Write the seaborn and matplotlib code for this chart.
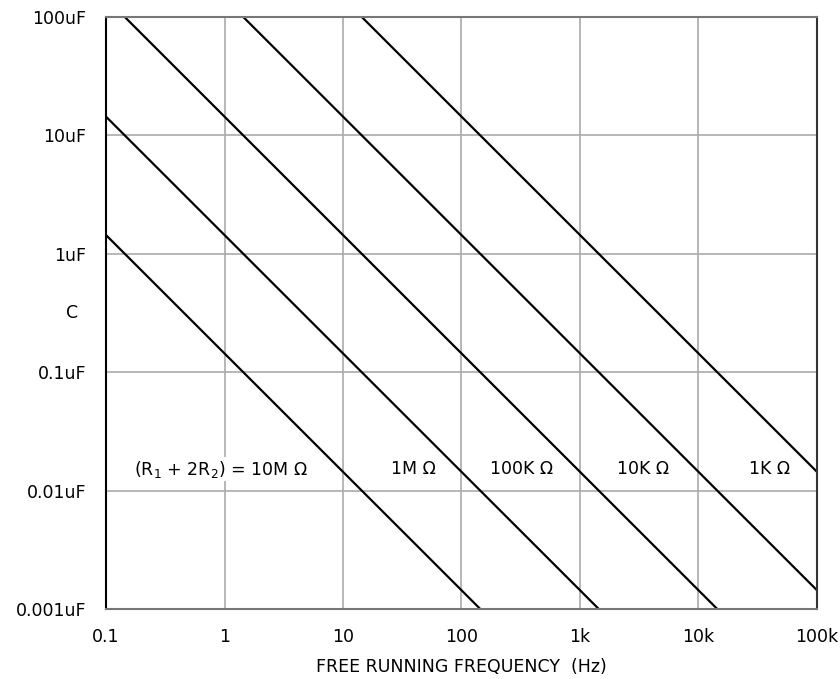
import pandas as pd
import matplotlib
matplotlib.use("Agg")
import matplotlib.pyplot as plt
import seaborn as sns

# end points of each R1+2R2 line (freq in Hz, C in uF)
freq_10M = [0.1, 144]
cap_10M = [1.44, 0.001]
freq_1M = [0.1, 1440]
cap_1M = [14.4, 0.001]
freq_100K = [0.144, 14400]
cap_100K = [100, 0.001]
freq_10K = [1.44, 100000]
cap_10K = [100, 0.00144]
freq_1K = [14.4, 100000]
cap_1K = [100, 0.0144]

series_names = ["10M", "1M", "100K", "10K", "1K"]
label_texts = ["(R$_\\mathregular{1}$ + 2R$_\\mathregular{2}$) = 10M \u03a9", "1M \u03a9", "100K \u03a9", "10K \u03a9", "1K \u03a9"]
label_freqs = [0.93, 39, 324, 3400, 39800]
label_cap = 0.0152

x_ticks = [0.1, 1, 10, 100, 1000, 10000, 100000]
x_tick_labels = ["0.1", "1", "10", "100", "1k", "10k", "100k"]
y_ticks = [0.001, 0.01, 0.1, 1, 10, 100]
y_tick_labels = ["0.001uF", "0.01uF", "0.1uF", "1uF", "10uF", "100uF"]

df = pd.concat([
    pd.DataFrame({"freq": freq_10M, "cap": cap_10M, "R": "10M"}),
    pd.DataFrame({"freq": freq_1M, "cap": cap_1M, "R": "1M"}),
    pd.DataFrame({"freq": freq_100K, "cap": cap_100K, "R": "100K"}),
    pd.DataFrame({"freq": freq_10K, "cap": cap_10K, "R": "10K"}),
    pd.DataFrame({"freq": freq_1K, "cap": cap_1K, "R": "1K"}),
], ignore_index=True)

sns.set_style("white")
plt.rcParams['font.family'] = ['DejaVu Sans']
plt.rcParams['text.color'] = 'black'
plt.rcParams['axes.labelcolor'] = 'black'
plt.rcParams['xtick.color'] = 'black'
plt.rcParams['ytick.color'] = 'black'

fs = 12.5

fig = plt.figure(figsize=(8.4, 6.79), dpi=100)
ax = fig.add_axes([0.1262, 0.1031, 0.8464, 0.8719])

sns.lineplot(data=df, x="freq", y="cap", hue="R", hue_order=series_names,
             palette=["black"] * 5, estimator=None, sort=False,
             linewidth=1.6, legend=False, ax=ax)

ax.set_xscale("log")
ax.set_yscale("log")
ax.set_xlim(0.1, 100000)
ax.set_ylim(0.001, 100)
ax.set_xticks(x_ticks)
ax.set_xticklabels(x_tick_labels)
ax.set_yticks(y_ticks)
ax.set_yticklabels(y_tick_labels)
ax.minorticks_off()
ax.tick_params(axis="both", length=0, labelsize=fs)
ax.tick_params(axis="y", pad=14)
ax.tick_params(axis="x", pad=14)
ax.grid(True, color="#aaaaaa", linewidth=1.2)
ax.set_axisbelow(True)

for side in ["top", "bottom"]:
    ax.spines[side].set_color("#777777")
    ax.spines[side].set_linewidth(1.5)
ax.spines["left"].set_color("black")
ax.spines["left"].set_linewidth(1.5)
ax.spines["right"].set_color("#333333")
ax.spines["right"].set_linewidth(1.5)

for txt, fx in zip(label_texts, label_freqs):
    ax.text(fx, label_cap, txt, ha="center", va="center", fontsize=fs,
            bbox=dict(facecolor="white", edgecolor="none", pad=1))

ax.set_xlabel("FREE RUNNING FREQUENCY  (Hz)", fontsize=fs, labelpad=8)
ax.set_ylabel("C", fontsize=fs, rotation=0, va="center", ha="center")
ax.yaxis.set_label_coords(-0.048, 0.5)

fig.savefig("out.png", dpi=100)
